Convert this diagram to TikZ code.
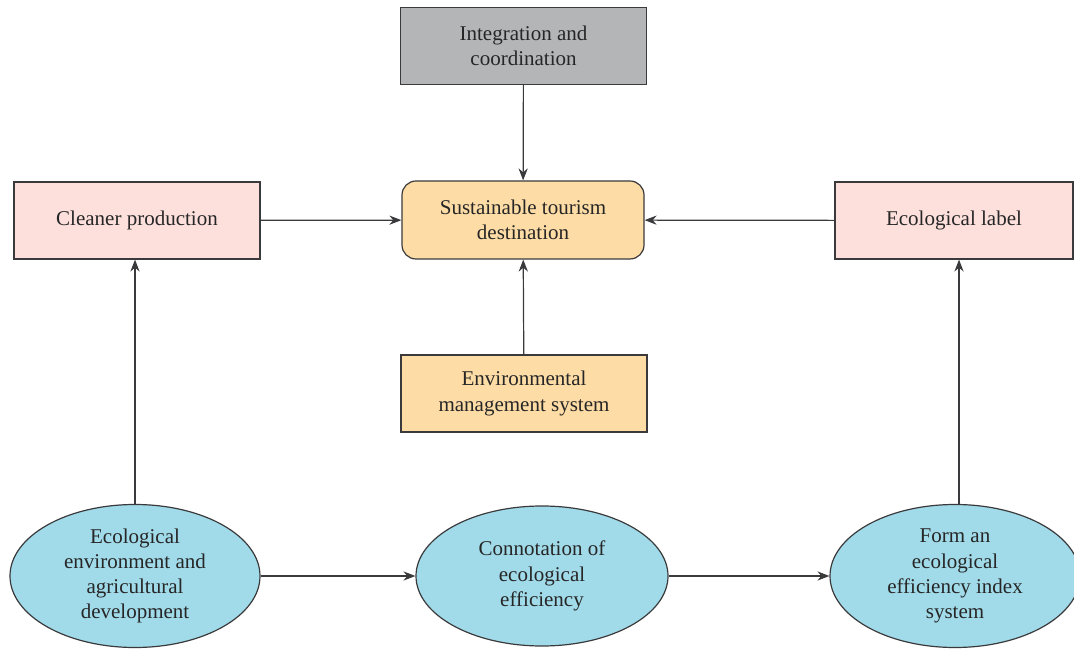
\documentclass[tikz,border=0pt]{standalone}
\usepackage{fontspec}
\setmainfont{Liberation Serif}
\usepackage{tikz}
\usetikzlibrary{arrows.meta,positioning,shapes.geometric}
\usepackage{xcolor}
\definecolor{integgray}{HTML}{B4B5B7}
\definecolor{destorange}{HTML}{FDDCA6}
\definecolor{prodpink}{HTML}{FDE0DC}
\definecolor{ecoblue}{HTML}{A1DBEA}
\definecolor{edgegray}{HTML}{3A3A3C}

\begin{document}
\begin{tikzpicture}[
    x=0.5pt, y=-0.5pt,
    box/.style={draw=edgegray, line width=0.6pt, minimum width=123pt, minimum height=38.5pt, align=center, inner sep=2pt},
    ellnode/.style={ellipse, draw=edgegray, line width=0.6pt, fill=ecoblue, minimum width=125pt, minimum height=71.5pt, inner sep=0pt, align=center},
    arrow/.style={-{Stealth[length=6pt,width=4.6pt]}, line width=0.6pt, draw=edgegray},
    every node/.style={font=\fontsize{10.5}{12.6}\selectfont, text=black!85}
]
\useasboundingbox (0,0) rectangle (1074,656);

% ---- Top row ----
\node[box, fill=integgray] (integ) at (523.5, 46) {Integration and\\coordination};
\node[box, fill=destorange, rounded corners=7pt, minimum width=121pt, minimum height=39pt] (dest) at (523, 220) {Sustainable tourism\\destination};

% ---- Side boxes ----
\node[box, fill=prodpink] (cleaner) at (137, 220.5) {Cleaner production};
\node[box, fill=prodpink, minimum width=119pt] (eclabel) at (954, 220.5) {Ecological label};

% ---- Management system ----
\node[box, fill=destorange] (envms) at (524, 393.5) {Environmental\\management system};

% ---- Bottom ellipses ----
\node[ellnode] (ecoenv) at (135, 576) {Ecological\\environment and\\agricultural\\development};
\node[ellnode, minimum width=126pt, minimum height=70pt] (connot) at (542, 576) {Connotation of\\ecological\\efficiency};
\node[ellnode] (formidx) at (955, 576) {Form an\\ecological\\efficiency index\\system};

% ---- Arrows into destination ----
\draw[arrow] (integ) -- (dest);
\draw[arrow] (cleaner) -- (dest);
\draw[arrow] (eclabel) -- (dest);
\draw[arrow] (envms) -- (dest);

% ---- Bottom flow ----
\draw[arrow] (ecoenv) -- (connot);
\draw[arrow] (connot) -- (formidx);
\draw[arrow] (ecoenv.north) -- (ecoenv.north |- cleaner.south);
\draw[arrow] ([xshift=2pt]formidx.north) -- ([xshift=2pt]formidx.north |- eclabel.south);

\end{tikzpicture}
\end{document}
